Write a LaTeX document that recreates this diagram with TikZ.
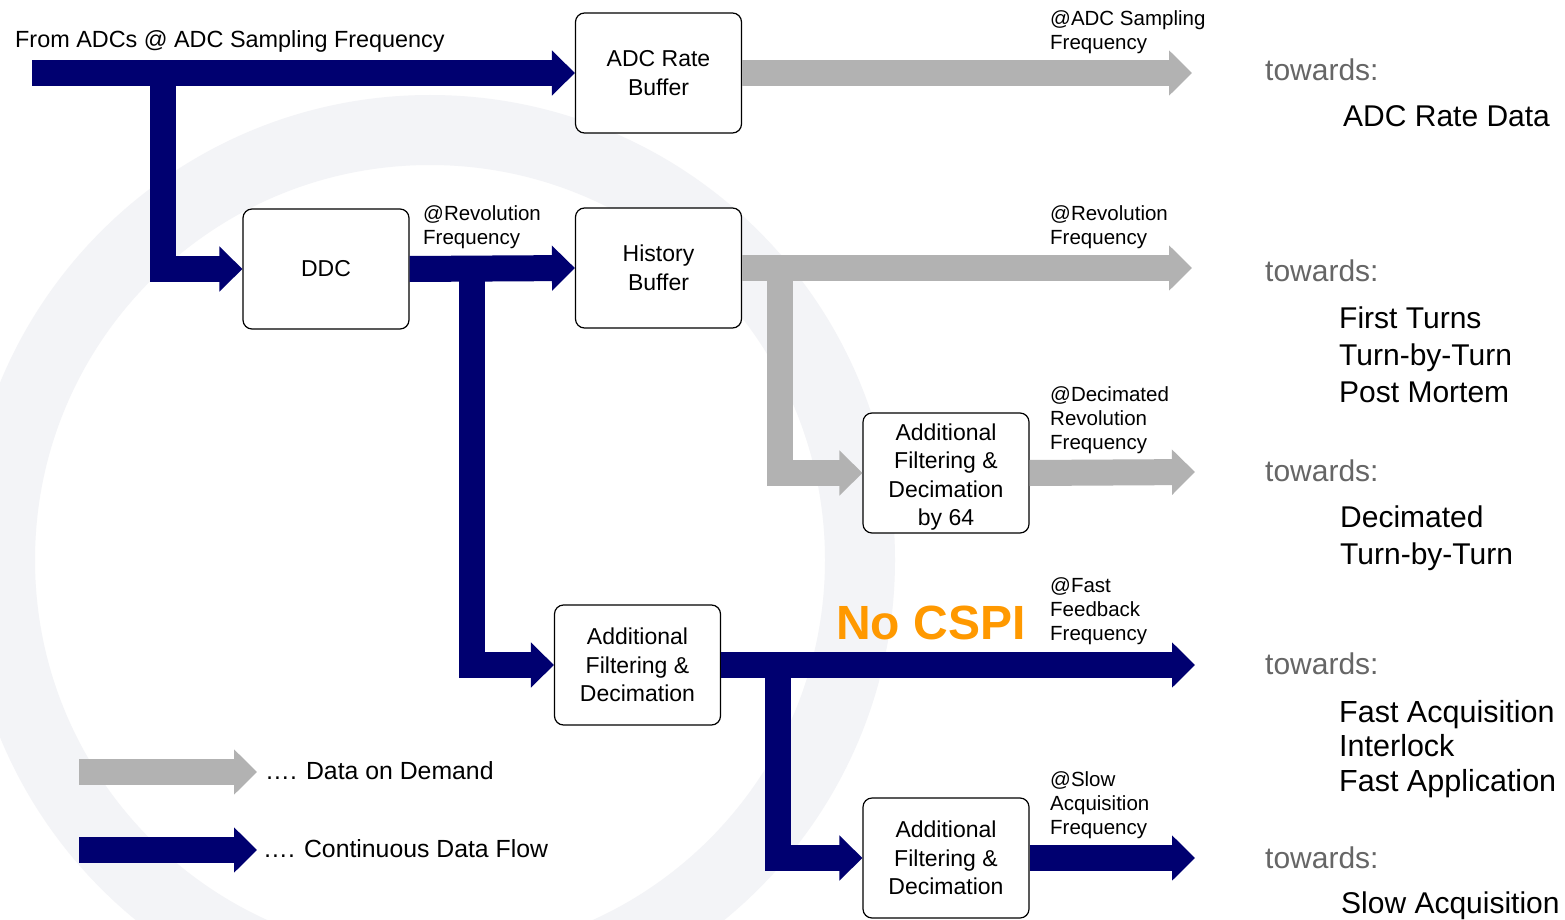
\documentclass[tikz,border=0pt]{standalone}
\usepackage{fontspec}
\setmainfont{Liberation Sans}
\usetikzlibrary{arrows.meta}
\definecolor{navy}{RGB}{0,0,112}
\definecolor{flowgray}{RGB}{178,178,178}
\definecolor{csorange}{RGB}{255,153,0}
\definecolor{towgray}{RGB}{102,102,102}
\definecolor{wmark}{RGB}{243,244,247}
\begin{document}
\begin{tikzpicture}[x=1pt,y=-1pt,
  box/.style={draw=black, line width=1.2pt, rounded corners=9pt, fill=white,
    minimum width=166pt, minimum height=120pt, align=center,
    font=\fontsize{23}{28.5}\selectfont, inner sep=0pt},
  flow/.style={line width=26pt, line join=miter, -{Triangle[length=23pt,width=44pt]}},
  navyflow/.style={flow, draw=navy},
  grayflow/.style={flow, draw=flowgray},
  freq/.style={anchor=north west, align=left, inner sep=0pt, font=\fontsize{20.5}{24}\selectfont},
  towards/.style={anchor=west, inner sep=0pt, text=towgray, font=\fontsize{30}{36}\selectfont},
  dest/.style={anchor=north west, align=left, inner sep=0pt, font=\fontsize{30}{37}\selectfont},
  legendtext/.style={anchor=west, inner sep=0pt, font=\fontsize{24.8}{30}\selectfont}
]
\useasboundingbox (0,0) rectangle (1565,920);
\fill[white] (0,0) rectangle (1565,920);
% faint watermark
\draw[wmark, line width=70pt] (430,560) circle[radius=430];

% boxes
\node[box] (adc)   at (658.5,73)  {ADC Rate\\Buffer};
\node[box] (ddc)   at (326,269)   {DDC};
\node[box] (hist)  at (658.5,268) {History\\Buffer};
\node[box] (dec64) at (946,473)   {\rule{0pt}{25pt}Additional\\Filtering \&\\Decimation\\by 64};
\node[box] (fad)   at (637.5,665) {Additional\\Filtering \&\\Decimation};
\node[box] (sad)   at (946,858)   {Additional\\Filtering \&\\Decimation};

% branch points and free ends
\coordinate (in)  at (32,73);
\coordinate (br1) at (163,73);
\coordinate (br2) at (471.5,268);
\coordinate (br3) at (780,268);
\coordinate (br4) at (777.5,665);
\coordinate (o1) at (1192,73);
\coordinate (o2) at (1192,268);
\coordinate (o3) at (1195,472);
\coordinate (o4) at (1195,665);
\coordinate (o5) at (1195,858);

% continuous data flow
\draw[navyflow] (in) -- (adc.west);
\draw[navyflow] (br1) |- (ddc.west);
\draw[navyflow] (ddc.east) -- (hist.west);
\draw[navyflow] (br2) |- (fad.west);
\draw[navyflow] (fad.east) -- (o4);
\draw[navyflow] (br4) |- (sad.west);
\draw[navyflow] (sad.east) -- (o5);
% data on demand
\draw[grayflow] (adc.east) -- (o1);
\draw[grayflow] (hist.east) -- (o2);
\draw[grayflow] (br3) |- (dec64.west);
\draw[grayflow] (dec64.east) -- (o3);

% labels
\node[anchor=west, inner sep=0pt, font=\fontsize{23.4}{28}\selectfont] (srclbl) at (15,41) {From ADCs @ ADC Sampling Frequency};
\node[freq] (f1) at (1050,10.5)  {@ADC Sampling\\Frequency};
\node[freq] (f2) at (423,205.5)  {@Revolution\\Frequency};
\node[freq] (f3) at (1050,205.5) {@Revolution\\Frequency};
\node[freq] (f4) at (1050,386.5) {@Decimated\\Revolution\\Frequency};
\node[freq] (f5) at (1050,577.5) {@Fast\\Feedback\\Frequency};
\node[freq] (f6) at (1050,771.5) {@Slow\\Acquisition\\Frequency};
\node[anchor=west, inner sep=0pt, text=csorange, font=\fontsize{48}{56}\selectfont\bfseries] (nocspi) at (836,623) {No CSPI};

% destinations
\node[towards] (t1) at (1265,70)  {towards:};
\node[towards] (t2) at (1265,271) {towards:};
\node[towards] (t3) at (1265,471) {towards:};
\node[towards] (t4) at (1265,664) {towards:};
\node[towards] (t5) at (1265,858) {towards:};
\node[dest] (d1) at (1343,105.5) {ADC Rate Data};
\node[dest] (d2) at (1339,307) {First Turns\\Turn-by-Turn\\Post Mortem};
\node[dest] (d3) at (1340,506) {Decimated\\Turn-by-Turn};
\node[dest, font=\fontsize{30.5}{34.5}\selectfont] (d4) at (1339,700) {Fast Acquisition\\Interlock\\Fast Application};
\node[dest] (d5) at (1341,892) {Slow Acquisition};

% legend
\coordinate (lg1s) at (79,772);
\coordinate (lg1e) at (257,772);
\coordinate (lg2s) at (79,850);
\coordinate (lg2e) at (257,850);
\draw[grayflow] (lg1s) -- (lg1e);
\draw[navyflow] (lg2s) -- (lg2e);
\node[legendtext] (lt1) at (265,771) {…. Data on Demand};
\node[legendtext] (lt2) at (263,849) {…. Continuous Data Flow};
\end{tikzpicture}
\end{document}
